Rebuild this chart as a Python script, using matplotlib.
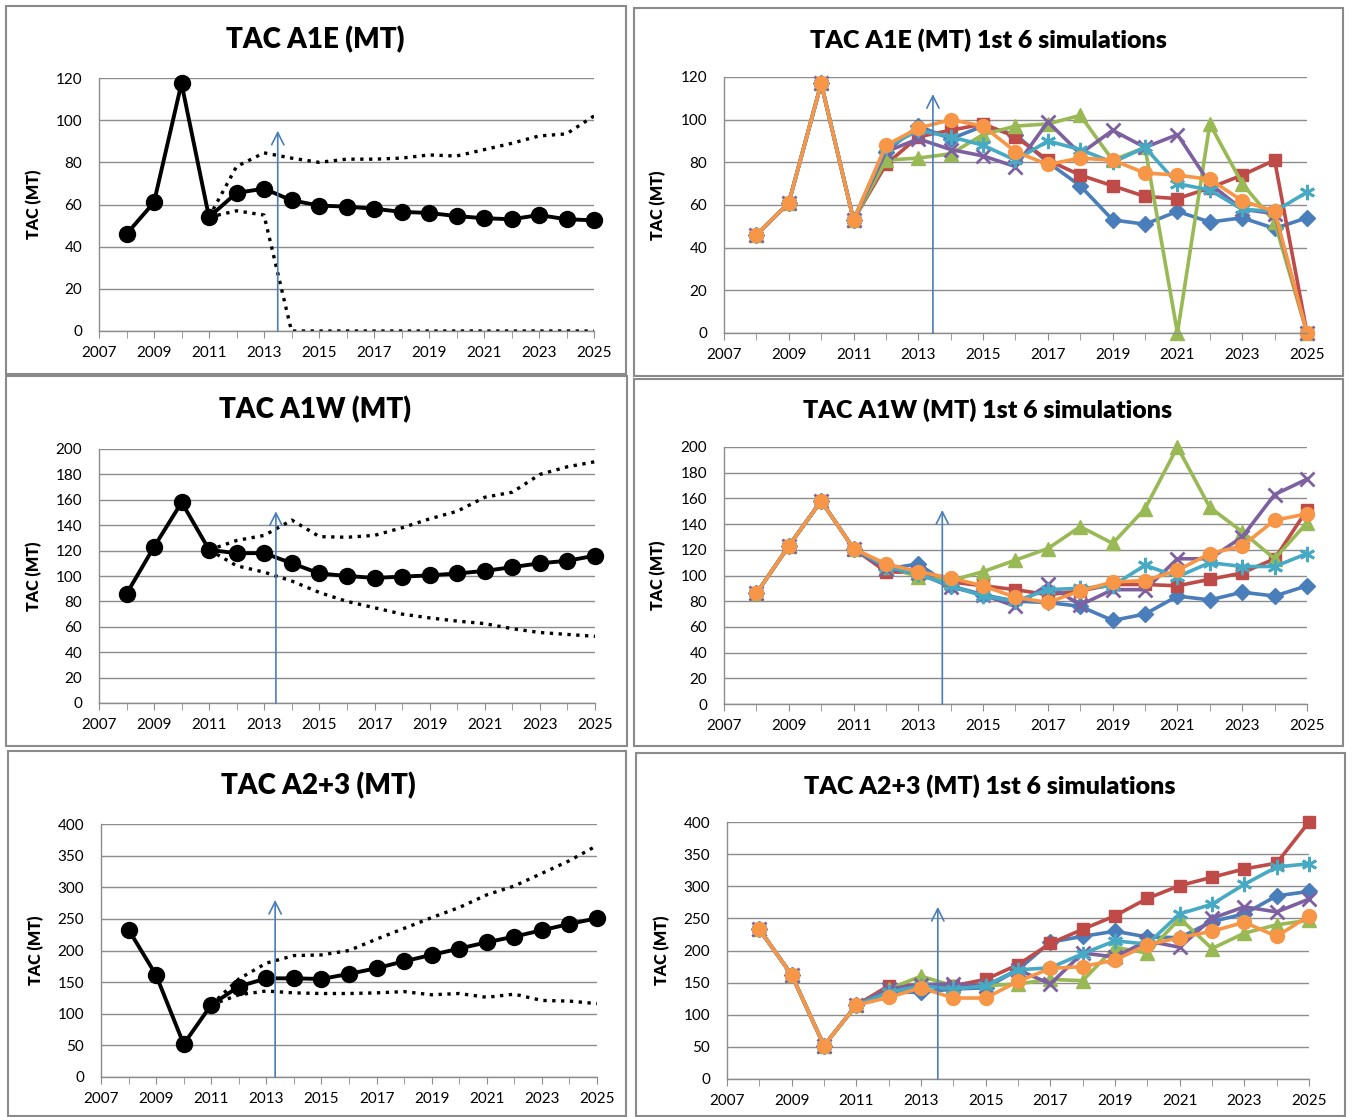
import matplotlib
matplotlib.use("Agg")
import matplotlib.pyplot as plt
from matplotlib.patches import Rectangle

plt.rcParams["font.family"] = ["Lato", "DejaVu Sans"]

YEARS = list(range(2008, 2026))

# projections: median with upper / lower bounds (bounds start in 2011)
A1E_MEDIAN = [46, 61, 117.5, 54, 65.5, 67.5, 62, 59.5, 59, 58, 56.5, 56, 54.5, 53.5, 53, 55, 53, 52.5]
A1E_UPPER = [54, 78, 84.5, 82, 80, 81.5, 81.5, 82, 83.5, 83, 86, 89, 92.5, 93.5, 102]
A1E_LOWER = [54, 57, 55, 0, 0, 0, 0, 0, 0, 0, 0, 0, 0, 0, 0]

A1W_MEDIAN = [86, 123, 158, 120.5, 118, 118, 110, 102, 100, 98.5, 99.5, 100.5, 102, 104, 107, 110, 112, 116]
A1W_UPPER = [120.5, 128, 132, 144, 131, 130.5, 132, 138, 145, 151, 162, 166, 180, 186, 190]
A1W_LOWER = [120.5, 108, 103, 96, 87, 80, 75, 70, 67, 64.5, 62.5, 58.5, 55.5, 54, 52.5]

A23_MEDIAN = [233, 161, 52, 114, 143, 156, 156, 155, 163, 172, 183, 193, 203, 213, 222, 232, 242, 251]
A23_UPPER = [114, 155, 180, 192, 193, 200, 218, 235, 252, 268, 288, 302, 322, 342, 366]
A23_LOWER = [114, 130, 136, 133, 132, 132, 133, 135, 130, 132, 126, 131, 121, 120, 116]

# first 6 simulations (blue, red, green, purple, cyan, orange)
A1E_HIST = [46, 61, 117, 53]
A1E_SIMS = [
    [85, 97, 91, 97, 93, 80, 69, 53, 51, 57, 52, 54, 49, 54],
    [79, 92, 95, 98, 92, 81, 74, 69, 64, 63, 68, 74, 81, 0],
    [81, 82, 84, 93, 97, 98, 102, 81, 87, 0, 98, 70, 52, 0],
    [85, 91, 86, 83, 78, 99, 84, 95, 87, 93, 70, 58, 56, 0],
    [87, 95, 92, 88, 81, 90, 86, 80, 87, 70, 67, 58, 57, 66],
    [88, 96, 100, 97, 85, 79, 82, 81, 75, 74, 72, 62, 57, 0],
]

A1W_HIST = [86, 123, 158, 121]
A1W_SIMS = [
    [105, 109, 92, 85, 80, 79, 76, 65, 70, 84, 81, 87, 84, 92],
    [103, 102, 95, 92, 89, 85, 88, 93, 93, 92, 97, 102, 113, 151],
    [107, 99, 96, 103, 112, 121, 138, 125, 152, 200, 153, 134, 113, 141],
    [105, 102, 91, 85, 76, 93, 77, 89, 89, 113, 113, 130, 163, 175],
    [107, 101, 92, 84, 80, 89, 90, 92, 108, 99, 110, 107, 107, 117],
    [109, 103, 98, 92, 83, 79, 88, 95, 96, 104, 117, 123, 143, 148],
]

A23_HIST = [233, 162, 52, 115]
A23_SIMS = [
    [135, 135, 140, 142, 170, 213, 222, 230, 221, 220, 245, 257, 285, 292],
    [145, 146, 145, 155, 178, 211, 233, 254, 281, 301, 314, 327, 336, 400],
    [140, 160, 145, 145, 148, 155, 153, 205, 196, 250, 203, 227, 240, 247],
    [140, 147, 148, 145, 170, 148, 196, 190, 215, 205, 250, 268, 260, 280],
    [135, 145, 140, 145, 170, 173, 195, 215, 210, 257, 272, 303, 330, 335],
    [127, 142, 126, 126, 152, 172, 175, 185, 209, 220, 230, 244, 222, 254],
]

SIM_COLORS = ["#4A7EBB", "#BE4B48", "#98B954", "#7D60A0", "#46AAC5", "#F79646"]
SIM_MARKERS = ["D", "s", "^", "x", (6, 2, 0), "o"]
SIM_MSIZE = [8, 8.5, 9.5, 10, 11, 10]
ARROW_COLOR = "#4A7EBB"
GRID_COLOR = "#8C8C8C"

W, H = 1352, 1117
fig = plt.figure(figsize=(W / 100, H / 100), dpi=100)


def px_axes(x0, x1, ytop, ybot):
    return fig.add_axes([x0 / W, 1 - ybot / H, (x1 - x0) / W, (ybot - ytop) / H])


def style_axes(ax, ymax, ystep, ylab_x):
    ax.set_xlim(2007, 2025)
    ax.set_ylim(0, ymax)
    ax.set_yticks(range(0, ymax + 1, ystep))
    ax.set_xticks(range(2007, 2026, 2))
    ax.set_xticks(range(2007, 2026), minor=True)
    ax.tick_params(axis="x", which="both", direction="out", length=5,
                   color=GRID_COLOR, labelsize=11, pad=6)
    ax.tick_params(axis="y", length=0, labelsize=11, pad=12)
    ax.grid(axis="y", color=GRID_COLOR, linewidth=1)
    ax.set_axisbelow(True)
    for side in ("top", "right"):
        ax.spines[side].set_visible(False)
    for side in ("left", "bottom"):
        ax.spines[side].set_color(GRID_COLOR)
        ax.spines[side].set_linewidth(1)
    ax.set_ylabel("TAC (MT)", fontsize=11.5, fontweight="heavy")
    ax.yaxis.set_label_coords(ylab_x, 0.5)


def arrow(ax, x, top):
    ax.annotate("", xy=(x, top), xytext=(x, 0),
                arrowprops=dict(arrowstyle="->", color=ARROW_COLOR, lw=1.2,
                                mutation_scale=22, shrinkA=0, shrinkB=0))


def projection_panel(box, median, upper, lower, ymax, ystep, arrow_x, arrow_top, ylab_x):
    ax = px_axes(*box)
    style_axes(ax, ymax, ystep, ylab_x)
    ax.plot(YEARS[3:], upper, ":", color="black", lw=2.4)
    ax.plot(YEARS[3:], lower, ":", color="black", lw=2.4)
    arrow(ax, arrow_x, arrow_top)
    ax.plot(YEARS, median, "-o", color="black", lw=2.8, markersize=11.5, clip_on=False)
    return ax


def sims_panel(box, hist, sims, ymax, ystep, arrow_x, arrow_top, ylab_x):
    ax = px_axes(*box)
    style_axes(ax, ymax, ystep, ylab_x)
    arrow(ax, arrow_x, arrow_top)
    for sim, c, m, ms in zip(sims, SIM_COLORS, SIM_MARKERS, SIM_MSIZE):
        ax.plot(YEARS, hist + sim, "-", color=c, lw=2.6, marker=m, markersize=ms,
                markeredgewidth=2 if m in ("x", (6, 2, 0)) else 1, clip_on=False)
    return ax


projection_panel((99, 594, 78, 331), A1E_MEDIAN, A1E_UPPER, A1E_LOWER,
                 120, 20, 2013.5, 95, -0.115)
sims_panel((724, 1307, 77, 333), A1E_HIST, A1E_SIMS, 120, 20, 2013.45, 112, -0.1)
projection_panel((99, 595, 449, 703), A1W_MEDIAN, A1W_UPPER, A1W_LOWER,
                 200, 20, 2013.42, 151, -0.115)
sims_panel((724, 1307, 447, 704), A1W_HIST, A1W_SIMS, 200, 20, 2013.74, 151, -0.1)
projection_panel((101, 597, 824, 1077), A23_MEDIAN, A23_UPPER, A23_LOWER,
                 400, 50, 2013.32, 280, -0.115)
sims_panel((727, 1309, 822, 1079), A23_HIST, A23_SIMS, 400, 50, 2013.52, 268, -0.098)

# panel frames and titles
frames = [(6, 6, 626, 374), (634, 8, 1343, 376), (6, 376, 627, 746),
          (634, 379, 1343, 746), (8, 751, 626, 1116), (636, 753, 1345, 1116)]
for x0, y0, x1, y1 in frames:
    fig.patches.append(Rectangle((x0 / W, 1 - y1 / H), (x1 - x0) / W, (y1 - y0) / H,
                                 transform=fig.transFigure, fill=False,
                                 edgecolor="#8A8A8A", linewidth=1.5))

titles = [(315, 40, "TAC A1E (MT)", 20), (988, 40, "TAC A1E (MT) 1st 6 simulations", 18),
          (315, 410, "TAC A1W (MT)", 20), (988, 410, "TAC A1W (MT) 1st 6 simulations", 18),
          (318, 786, "TAC A2+3 (MT)", 20), (990, 786, "TAC A2+3 (MT) 1st 6 simulations", 18)]
for x, y, t, fs in titles:
    fig.text(x / W, 1 - y / H, t, ha="center", va="center", fontsize=fs, fontweight="heavy")

fig.savefig("out.png", dpi=100)
